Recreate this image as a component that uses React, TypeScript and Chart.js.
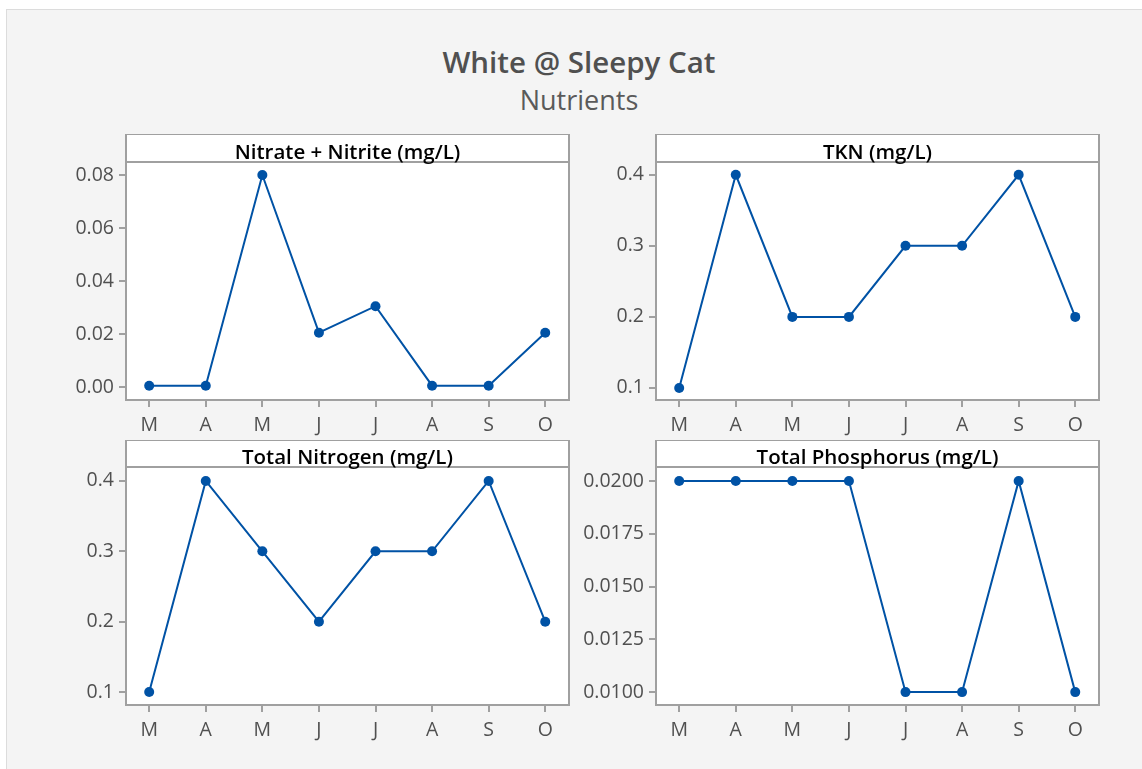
import React, { useEffect, useRef } from "react";
import { Chart, registerables } from "chart.js";

Chart.register(...registerables);

const months = ["M", "A", "M", "J", "J", "A", "S", "O"];

const nitrateValues = [0.0005, 0.0005, 0.08, 0.0205, 0.0305, 0.0005, 0.0005, 0.0205];
const tknValues = [0.1, 0.4, 0.2, 0.2, 0.3, 0.3, 0.4, 0.2];
const totalNitrogenValues = [0.1, 0.4, 0.3, 0.2, 0.3, 0.3, 0.4, 0.2];
const totalPhosphorusValues = [0.02, 0.02, 0.02, 0.02, 0.01, 0.01, 0.02, 0.01];

const nitrateTicks = [0, 0.02, 0.04, 0.06, 0.08];
const tknTicks = [0.1, 0.2, 0.3, 0.4];
const totalNitrogenTicks = [0.1, 0.2, 0.3, 0.4];
const totalPhosphorusTicks = [0.01, 0.0125, 0.015, 0.0175, 0.02];

const FONT = "'Open Sans', 'Noto Sans', sans-serif";
const LINE_COLOR = "#0052a5";
const FRAME_COLOR = "#a0a0a0";

type PanelProps = {
  title: string;
  values: number[];
  ticks: number[];
  decimals: number;
  yMin: number;
  yMax: number;
  left: number;
  top: number;
  headerH: number;
};

const Y_AXIS_W = 80;
const X_AXIS_H = 46;
const PLOT_W = 443;
const PLOT_H = 238;

const headerPlugin = {
  id: "headerFrame",
  beforeDraw(chart: any, _args: any, opts: any) {
    const { ctx, chartArea } = chart;
    const h = opts.headerH;
    ctx.save();
    ctx.fillStyle = "#ffffff";
    ctx.fillRect(chartArea.left, chartArea.top - h, chartArea.right - chartArea.left, chartArea.bottom - chartArea.top + h);
    ctx.restore();
  },
  afterDraw(chart: any, _args: any, opts: any) {
    const { ctx, chartArea } = chart;
    const h = opts.headerH;
    ctx.save();
    ctx.strokeStyle = FRAME_COLOR;
    ctx.lineWidth = 2;
    ctx.strokeRect(chartArea.left, chartArea.top - h, chartArea.right - chartArea.left, chartArea.bottom - chartArea.top + h);
    ctx.beginPath();
    ctx.moveTo(chartArea.left, chartArea.top);
    ctx.lineTo(chartArea.right, chartArea.top);
    ctx.stroke();
    ctx.fillStyle = "#000000";
    ctx.font = `600 20.5px ${FONT}`;
    ctx.textAlign = "center";
    ctx.textBaseline = "middle";
    ctx.fillText(opts.title, (chartArea.left + chartArea.right) / 2, chartArea.top - h / 2 + 5);
    ctx.restore();
  },
};

function Panel(p: PanelProps) {
  const ref = useRef<HTMLCanvasElement | null>(null);
  const width = Y_AXIS_W + PLOT_W + 2;
  const height = p.headerH + PLOT_H + X_AXIS_H;
  useEffect(() => {
    if (!ref.current) return;
    const chart = new Chart(ref.current, {
      type: "line",
      data: {
        datasets: [
          {
            data: p.values.map((v, i) => ({ x: i, y: v })),
            borderColor: LINE_COLOR,
            backgroundColor: LINE_COLOR,
            borderWidth: 2,
            pointRadius: 5,
            pointBackgroundColor: LINE_COLOR,
            pointBorderWidth: 0,
            tension: 0,
          },
        ],
      },
      options: {
        animation: false,
        responsive: false,
        maintainAspectRatio: false,
        layout: { autoPadding: false, padding: { top: p.headerH, right: 2, left: 0, bottom: 0 } },
        plugins: {
          legend: { display: false },
          tooltip: { enabled: false },
          headerFrame: { headerH: p.headerH, title: p.title },
        } as any,
        scales: {
          x: {
            type: "linear",
            min: -0.41,
            max: 7.42,
            afterBuildTicks: (axis: any) => {
              axis.ticks = months.map((_m, i) => ({ value: i }));
            },
            afterFit: (axis: any) => {
              axis.height = X_AXIS_H;
            },
            ticks: {
              callback: (v: any) => months[Number(v)] ?? "",
              color: "#505050",
              font: { family: FONT, size: 19.5 },
              padding: 7,
              maxRotation: 0,
              autoSkip: false,
            },
            grid: {
              display: true,
              drawOnChartArea: false,
              drawTicks: true,
              tickLength: 7,
              color: FRAME_COLOR,
              lineWidth: 2,
            },
            border: { display: false },
          },
          y: {
            type: "linear",
            min: p.yMin,
            max: p.yMax,
            afterBuildTicks: (axis: any) => {
              axis.ticks = p.ticks.map((v) => ({ value: v }));
            },
            afterFit: (axis: any) => {
              axis.width = Y_AXIS_W;
            },
            ticks: {
              callback: (v: any) => Number(v).toFixed(p.decimals),
              color: "#505050",
              font: { family: FONT, size: 19.5 },
              padding: 5,
              autoSkip: false,
            },
            grid: {
              display: true,
              drawOnChartArea: false,
              drawTicks: true,
              tickLength: 7,
              color: FRAME_COLOR,
              lineWidth: 2,
            },
            border: { display: false },
          },
        },
      },
      plugins: [headerPlugin],
    });
    return () => chart.destroy();
  }, []);
  return (
    <canvas
      ref={ref}
      width={width}
      height={height}
      style={{ position: "absolute", left: p.left - Y_AXIS_W, top: p.top, width, height }}
    />
  );
}

export default function App() {
  return (
    <div style={{ position: "absolute", left: 0, top: 0, width: 1142, height: 769, background: "#ffffff", overflow: "hidden" }}>
      <div
        style={{
          position: "absolute",
          left: 6,
          top: 9,
          width: 1140,
          height: 765,
          background: "#f4f4f4",
          border: "1px solid #dcdcdc",
          boxSizing: "border-box",
        }}
      />
      <div
        style={{
          position: "absolute",
          left: 0,
          width: 1158,
          top: 41,
          textAlign: "center",
          fontFamily: FONT,
          fontSize: 29.5,
          fontWeight: 600,
          color: "#505050",
          lineHeight: "42px",
        }}
      >
        White @ Sleepy Cat
      </div>
      <div
        style={{
          position: "absolute",
          left: 0,
          width: 1158,
          top: 81,
          textAlign: "center",
          fontFamily: FONT,
          fontSize: 27,
          color: "#5a5a5a",
          lineHeight: "38px",
        }}
      >
        Nutrients
      </div>
      <Panel title="Nitrate + Nitrite (mg/L)" values={nitrateValues} ticks={nitrateTicks} decimals={2} yMin={-0.0049} yMax={0.0849} left={126} top={134} headerH={28} />
      <Panel title="TKN (mg/L)" values={tknValues} ticks={tknTicks} decimals={1} yMin={0.083} yMax={0.418} left={656} top={134} headerH={28} />
      <Panel title="Total Nitrogen (mg/L)" values={totalNitrogenValues} ticks={totalNitrogenTicks} decimals={1} yMin={0.0816} yMax={0.4198} left={126} top={440} headerH={27} />
      <Panel title="Total Phosphorus (mg/L)" values={totalPhosphorusValues} ticks={totalPhosphorusTicks} decimals={4} yMin={0.00939} yMax={0.02066} left={656} top={440} headerH={27} />
    </div>
  );
}
